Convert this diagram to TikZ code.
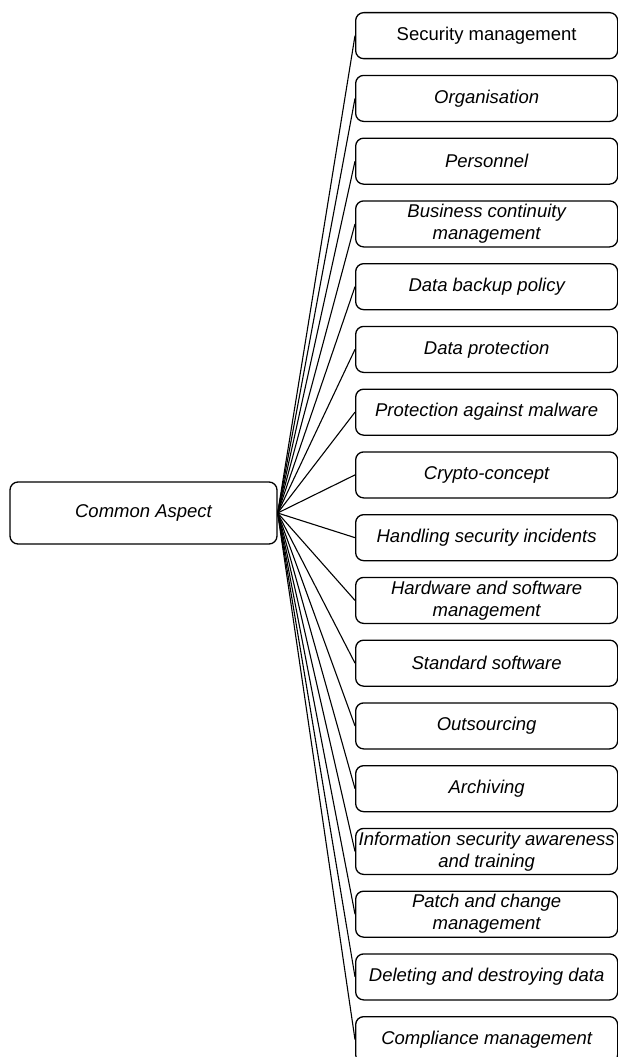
\documentclass[tikz,border=0pt]{standalone}
\usepackage{fontspec}
\setmainfont{Liberation Sans}
\begin{document}
\begin{tikzpicture}[x=1pt,y=-1pt,
  box/.style={draw, line width=1.3pt, rounded corners=8pt, minimum width=262pt, minimum height=46pt,
    inner sep=0pt, align=center, font=\fontsize{18.5}{22}\selectfont\itshape, anchor=north west},
  root/.style={draw, line width=1.3pt, rounded corners=8pt, minimum width=267pt, minimum height=62pt,
    inner sep=0pt, align=center, font=\fontsize{18.5}{22}\selectfont\itshape},
  link/.style={line width=1.1pt}]
\useasboundingbox (0,0) rectangle (618,1057);
\clip (0,0) rectangle (618,1057);
\node[root] (ca) at (143.5,513) {Common Aspect};
\node[box, font=\fontsize{18.5}{22}\selectfont] (b0) at (355,12) {Security management};
\node[box] (b1) at (355,74.75) {Organisation};
\node[box] (b2) at (355,137.5) {Personnel};
\node[box] (b3) at (355,200.25) {Business continuity\\management};
\node[box] (b4) at (355,263) {Data backup policy};
\node[box] (b5) at (355,325.75) {Data protection};
\node[box] (b6) at (355,388.5) {Protection against malware};
\node[box] (b7) at (355,451.25) {Crypto-concept};
\node[box] (b8) at (355,514) {Handling security incidents};
\node[box] (b9) at (355,576.75) {Hardware and software\\management};
\node[box] (b10) at (355,639.5) {Standard software};
\node[box] (b11) at (355,702.25) {Outsourcing};
\node[box] (b12) at (355,765) {Archiving};
\node[box] (b13) at (355,827.75) {Information security awareness\\and training};
\node[box] (b14) at (355,890.5) {Patch and change\\management};
\node[box] (b15) at (355,953.25) {Deleting and destroying data};
\node[box] (b16) at (355,1016) {Compliance management};
\foreach \i in {0,...,16} {\draw[link] (ca.east) -- (b\i.west);}
\end{tikzpicture}
\end{document}
